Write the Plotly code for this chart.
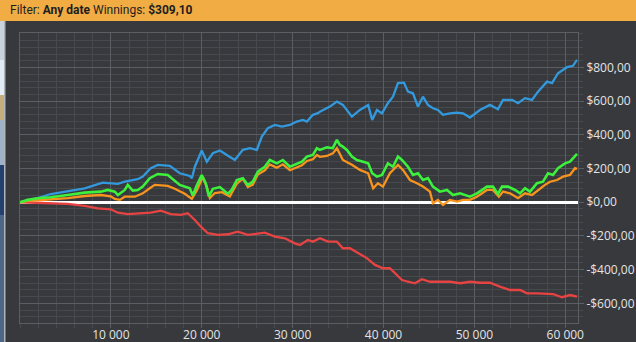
import plotly.graph_objects as go

# ---------------- data ----------------
blue_x = [0, 850, 1950, 3380, 5250, 7120, 9100, 10770, 11530, 12960, 13510, 14390, 15160, 15930, 16480,
          17580, 18690, 18910, 19240, 20000, 20560, 21220, 21990, 22760, 23640, 24520, 25290, 26060, 26610,
          27270, 28040, 28820, 29700, 30460, 31130, 31570, 32230, 32780, 33000, 34100, 34870, 35530, 36520,
          37400, 38310, 38750, 39280, 39830, 40480, 41040, 41590, 42250, 42690, 43240, 43790, 44340, 44890,
          45440, 45990, 46540, 47310, 48090, 48750, 49510, 50610, 51710, 52590, 53150, 54140, 54800, 55570,
          56340, 57000, 57990, 58540, 59200, 60190, 60850, 61290]
blue_y = [0, 10, 25, 49, 67, 83, 116, 109, 122, 137, 152, 202, 222, 221, 216, 172, 156, 143, 211, 307,
          241, 291, 307, 281, 251, 311, 321, 311, 390, 440, 459, 449, 459, 479, 489, 479, 519, 529, 538, 568,
          598, 578, 508, 548, 578, 489, 548, 528, 588, 627, 707, 710, 657, 647, 568, 627, 578, 558, 548, 519,
          528, 532, 528, 503, 548, 578, 552, 608, 608, 588, 618, 608, 657, 716, 707, 766, 802, 810, 845]

green_x = [0, 850, 1950, 3380, 5250, 7120, 8880, 9660, 10430, 10770, 11530, 11860, 12410, 12960, 13510,
           14280, 15160, 16260, 17580, 18690, 19010, 19450, 20000, 20450, 20780, 21220, 21990, 22870, 23310,
           23860, 24520, 25070, 25620, 26170, 26940, 27490, 28260, 28920, 29700, 30460, 31020, 31570, 32230,
           32670, 33000, 33770, 34420, 34870, 35200, 35530, 35970, 36520, 37070, 37760, 38310, 38750, 39280,
           39830, 40480, 41040, 41590, 42030, 42690, 43240, 43790, 44340, 44890, 45440, 46210, 46980, 47650,
           48420, 49510, 50280, 51380, 52040, 52590, 53040, 53700, 54470, 55020, 55570, 56120, 56890, 57550,
           58100, 58650, 59200, 59970, 60520, 60850, 61290]
green_y = [0, 14, 24, 30, 43, 57, 63, 73, 63, 43, 73, 103, 69, 73, 93, 143, 168, 162, 103, 83, 40, 100,
           162, 110, 35, 80, 90, 50, 75, 132, 143, 103, 122, 182, 211, 251, 231, 251, 211, 231, 241, 271, 281,
           321, 311, 326, 321, 370, 340, 330, 311, 271, 251, 241, 231, 172, 152, 162, 231, 211, 271, 251, 211,
           162, 172, 132, 143, 93, 63, 73, 43, 53, 33, 53, 93, 93, 49, 93, 93, 73, 53, 83, 63, 113, 122, 172,
           162, 202, 231, 241, 261, 287]

orange_x = [0, 850, 1950, 3380, 5250, 7120, 8880, 9990, 10430, 10990, 11530, 12630, 13510, 14280, 14830,
            16260, 17030, 18130, 18910, 19450, 20120, 20560, 20890, 21440, 22210, 23090, 23860, 24520, 25070,
            25620, 26170, 26940, 27490, 28260, 28920, 29700, 30460, 31020, 31570, 32230, 32670, 33000, 33770,
            34420, 34870, 35200, 35530, 36520, 37400, 38310, 38860, 39390, 39940, 40700, 41590, 42140, 42910,
            43680, 44340, 45110, 45440, 45990, 46540, 47310, 48090, 48750, 49510, 50280, 51380, 52040, 52700,
            53150, 53920, 54800, 55570, 56340, 57000, 57770, 58320, 59090, 59750, 60520, 61070, 61290]
orange_y = [0, 8, 12, 18, 24, 37, 43, 35, 20, 14, 33, 33, 53, 83, 103, 97, 80, 50, 20, 70, 150, 90, 25,
            55, 60, 35, 110, 140, 90, 105, 165, 190, 225, 205, 225, 190, 205, 220, 245, 255, 281, 270, 275,
            290, 321, 290, 251, 222, 192, 172, 83, 113, 93, 172, 222, 192, 132, 113, 93, 63, -6, 14, -16, 14,
            4, 14, 14, 33, 73, 73, 33, 63, 53, 24, 53, 43, 73, 103, 122, 132, 152, 162, 202, 198]

red_x = [0, 850, 3380, 5250, 7120, 8550, 9990, 10770, 11860, 12960, 14390, 15490, 16590, 17690, 18460,
         19240, 19900, 20670, 21770, 22870, 23970, 25070, 26170, 26940, 28040, 29150, 30240, 30800, 31680,
         32230, 33000, 33880, 34870, 35530, 36300, 37180, 38200, 39060, 39940, 40700, 41250, 42030, 42690,
         43460, 44230, 45110, 46210, 47310, 48420, 49510, 50610, 51710, 52810, 53920, 55020, 55790, 56890,
         57990, 58650, 59640, 60520, 61290]
red_y = [0, -2, -6, -10, -22, -36, -42, -62, -70, -65, -62, -50, -70, -75, -65, -105, -145, -184, -194,
         -190, -175, -194, -184, -181, -204, -214, -244, -254, -224, -234, -214, -234, -234, -273, -273, -303,
         -333, -372, -392, -392, -422, -462, -472, -481, -457, -472, -472, -472, -481, -472, -478, -478, -501,
         -521, -521, -541, -541, -545, -545, -564, -551, -561]

x_tick_vals = [10000, 20000, 30000, 40000, 50000, 60000]
x_tick_text = ["10 000", "20 000", "30 000", "40 000", "50 000", "60 000"]
y_tick_vals = [800, 600, 400, 200, 0, -200, -400, -600]
y_tick_text = ["$800,00", "$600,00", "$400,00", "$200,00", "$0,00", "-$200,00", "-$400,00", "-$600,00"]

header_html = "Filter: <b>Any date</b> Winnings: <b>$309,10</b>"

# ---------------- figure ----------------
BG = "#37393d"
MAJOR = "#5b5e62"
MINOR = "#46494d"
FONT = "Open Sans"

fig = go.Figure()
fig.add_trace(go.Scatter(x=red_x, y=red_y, mode="lines", line=dict(color="#e84343", width=2.3)))
fig.add_trace(go.Scatter(x=blue_x, y=blue_y, mode="lines", line=dict(color="#3399dd", width=2.3)))
fig.add_trace(go.Scatter(x=orange_x, y=orange_y, mode="lines", line=dict(color="#f7941d", width=2.3)))
fig.add_trace(go.Scatter(x=green_x, y=green_y, mode="lines", line=dict(color="#3cf03c", width=2.6)))

W, H = 636, 342
L, R, T, B = 20, 58, 33, 19
pw, ph = W - L - R, H - T - B


def px_x(p):
    return (p - L) / pw


def px_y(p):
    return (H - B - p) / ph


fig.update_layout(
    width=W, height=H,
    margin=dict(l=L, r=R, t=T, b=B, pad=0, autoexpand=False),
    paper_bgcolor=BG, plot_bgcolor=BG,
    showlegend=False,
    font=dict(family=FONT, size=12, color="#e4e4e4"),
    xaxis=dict(
        range=[0, 61400], tickmode="array", tickvals=x_tick_vals, ticktext=x_tick_text,
        showgrid=True, gridcolor=MAJOR, gridwidth=1, automargin=False,
        ticks="outside", ticklen=4, tickcolor=MAJOR, ticklabelstandoff=-3,
        showline=True, linecolor=MAJOR, mirror=True, zeroline=False,
        minor=dict(tickmode="linear", tick0=0, dtick=2000, showgrid=True, gridcolor=MINOR,
                   ticks="outside", ticklen=4, tickcolor=MINOR),
        tickfont=dict(family=FONT, size=12, color="#e4e4e4"),
        fixedrange=True,
    ),
    yaxis=dict(
        range=[-717, 1005], side="right", tickmode="array", tickvals=y_tick_vals, ticktext=y_tick_text,
        showgrid=True, gridcolor=MAJOR, gridwidth=1, automargin=False,
        ticks="outside", ticklen=5, tickcolor=MAJOR,
        showline=True, linecolor=MAJOR, mirror=True,
        zeroline=True, zerolinecolor="#ffffff", zerolinewidth=2.5,
        minor=dict(tickmode="linear", tick0=0, dtick=40, showgrid=True, gridcolor=MINOR,
                   ticks="outside", ticklen=4, tickcolor=MINOR),
        tickfont=dict(family=FONT, size=12, color="#e4e4e4"),
        fixedrange=True,
    ),
)

# header bar
fig.add_shape(type="rect", xref="paper", yref="paper", x0=px_x(0), x1=px_x(W), y0=px_y(21), y1=px_y(0),
              fillcolor="#f2ac44", line=dict(width=0), layer="above")
fig.add_annotation(xref="paper", yref="paper", x=px_x(8), y=px_y(10.5), xanchor="left", yanchor="middle",
                   text=header_html, showarrow=False, font=dict(family="Roboto", size=12, color="#1e1e1e"))

# left window edge strip (background photo peeking through)
strip = [(21, 60, "#c9d3dd"), (60, 95, "#e4ecf3"), (95, 120, "#c7ad7e"), (120, 165, "#9fb3c8"),
         (165, 215, "#24406e"), (215, 342, "#4d6788")]
for y0, y1, c in strip:
    fig.add_shape(type="rect", xref="paper", yref="paper", x0=px_x(0), x1=px_x(4), y0=px_y(y1), y1=px_y(y0),
                  fillcolor=c, line=dict(width=0), layer="above")
fig.add_shape(type="rect", xref="paper", yref="paper", x0=px_x(4), x1=px_x(5.5), y0=px_y(342), y1=px_y(21),
              fillcolor="#aeb4ba", line=dict(width=0), layer="above")

fig.write_html("out.html", config=dict(displayModeBar=False))
